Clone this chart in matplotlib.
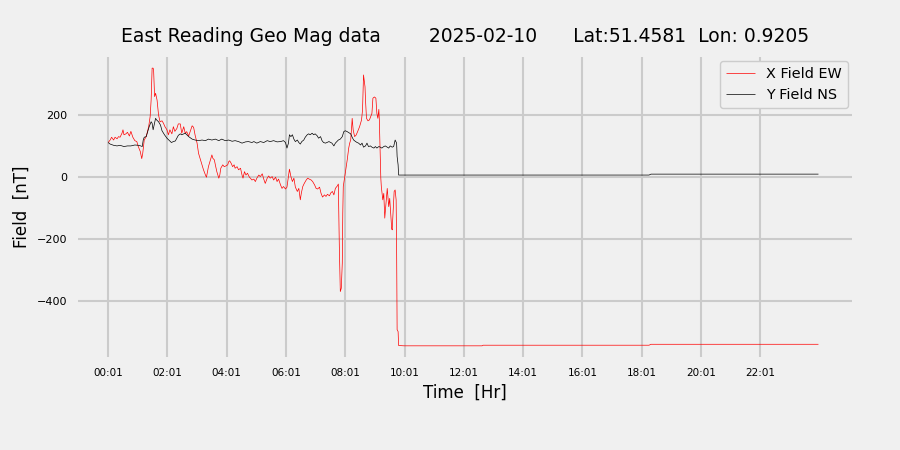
import matplotlib
matplotlib.use("Agg")
import matplotlib.pyplot as plt

# ---- data (minutes since midnight, field in nT) ----
x_time = [1, 5, 8, 12, 15, 19, 22, 25, 29, 31, 33, 37, 40, 44, 47, 51, 55, 59, 62, 66,
          69, 71, 74, 78, 83, 86, 88, 90, 92, 93, 95, 97, 100, 103, 106, 110, 113, 116,
          120, 123, 126, 130, 133, 136, 140, 143, 147, 150, 154, 157, 160, 164, 167, 171,
          174, 177, 181, 184, 187, 191, 194, 198, 200, 202, 204, 208, 211, 213, 216, 218,
          221, 225, 227, 229, 233, 236, 240, 243, 245, 247, 250, 253, 256, 258, 262, 265,
          269, 272, 274, 277, 280, 283, 287, 289, 292, 296, 299, 302, 306, 309, 313, 316,
          319, 323, 326, 329, 333, 336, 340, 343, 346, 350, 353, 356, 360, 363, 365, 368,
          371, 374, 377, 380, 384, 387, 390, 392, 395, 398, 402, 405, 408, 412, 415, 419,
          422, 425, 429, 432, 435, 439, 442, 445, 449, 452, 455, 458, 461, 465, 467, 468,
          469, 471, 473, 475, 476, 477, 479, 481, 483, 485, 488, 490, 492, 494, 495, 497,
          500, 503, 506, 510, 514, 516, 518, 521, 522, 524, 527, 530, 535, 537, 540, 543,
          545, 547, 549, 550, 552, 553, 554, 557, 559, 561, 564, 566, 569, 571, 575, 576,
          578, 580, 582, 584, 585, 586, 588, 589, 600, 758, 760, 1096, 1100, 1439]
x_field = [110, 118, 127, 118, 127, 122, 129, 127, 140, 151, 135, 138, 143, 131, 146, 127,
           116, 113, 97, 81, 58, 75, 118, 129, 161, 194, 247, 350, 350, 344, 258, 269, 247,
           199, 177, 180, 172, 161, 151, 135, 151, 138, 161, 146, 155, 170, 170, 140, 161,
           140, 145, 131, 145, 164, 159, 134, 108, 75, 59, 38, 22, 5, -2, 16, 32, 54, 70,
           59, 54, 38, 16, -5, 5, 27, 38, 32, 35, 38, 48, 51, 43, 32, 38, 27, 32, 22, 27,
           5, -5, 16, 5, 11, -2, -5, -11, -8, -16, -5, 5, 0, 9, -8, -22, -5, 2, -5, 0, -11,
           -2, -16, -8, -27, -38, -32, -40, -34, -11, 24, 0, -16, -5, -34, -48, -38, -75,
           -54, -32, -22, -11, -5, -8, -11, -16, -27, -38, -40, -34, -54, -66, -59, -64,
           -57, -62, -52, -48, -59, -38, -30, -24, -118, -226, -371, -360, -279, -118, -32,
           -11, 11, 32, 54, 92, 108, 118, 161, 188, 151, 129, 134, 145, 161, 183, 215, 328,
           290, 247, 188, 180, 183, 204, 253, 257, 253, 204, 188, 217, 183, 54, -5, -32,
           -75, -54, -134, -75, -38, -97, -70, -167, -172, -107, -48, -43, -75, -226, -494,
           -500, -545, -546, -546, -544, -544, -541, -541]

y_time = [1, 5, 12, 19, 25, 33, 40, 47, 55, 62, 67, 70, 72, 74, 78, 81, 84, 88, 90, 92,
          94, 97, 99, 103, 107, 110, 115, 120, 125, 129, 133, 137, 140, 143, 147, 150, 157,
          164, 171, 177, 184, 191, 198, 204, 211, 218, 225, 231, 238, 245, 252, 258, 265,
          272, 279, 285, 292, 296, 302, 309, 316, 323, 329, 336, 343, 350, 356, 360, 363,
          366, 368, 371, 374, 377, 380, 384, 387, 390, 393, 397, 400, 404, 407, 410, 414,
          417, 420, 424, 427, 431, 434, 437, 441, 448, 454, 458, 461, 467, 471, 475, 478,
          481, 485, 488, 492, 495, 498, 502, 505, 508, 512, 515, 518, 522, 525, 528, 532,
          535, 539, 542, 545, 549, 552, 555, 559, 562, 566, 569, 572, 576, 579, 582, 585,
          586, 588, 589, 600, 1096, 1100, 1439]
y_field = [110, 105, 101, 99, 101, 97, 99, 99, 102, 101, 99, 97, 118, 127, 129, 145, 161,
           177, 172, 151, 166, 188, 183, 177, 166, 148, 135, 124, 116, 110, 113, 115, 124,
           133, 138, 135, 140, 129, 121, 118, 116, 118, 116, 121, 118, 121, 116, 121, 116,
           118, 114, 116, 113, 108, 112, 113, 110, 113, 108, 113, 110, 116, 113, 116, 112,
           113, 116, 110, 92, 108, 135, 129, 135, 121, 113, 118, 110, 105, 113, 118, 127,
           135, 138, 135, 140, 135, 138, 132, 124, 129, 116, 110, 108, 113, 108, 99, 108,
           118, 121, 129, 145, 148, 145, 142, 138, 127, 118, 113, 110, 108, 102, 108, 95,
           99, 108, 97, 99, 95, 92, 97, 92, 97, 95, 92, 97, 99, 95, 92, 99, 95, 97, 118,
           108, 65, 38, 5, 5, 5, 8, 8]

tick_minutes = [1, 121, 241, 361, 481, 601, 721, 841, 961, 1081, 1201, 1321]
tick_labels = ["00:01", "02:01", "04:01", "06:01", "08:01", "10:01",
               "12:01", "14:01", "16:01", "18:01", "20:01", "22:01"]
y_ticks = [-400, -200, 0, 200]

title = "East Reading Geo Mag data        2025-02-10      Lat:51.4581  Lon: 0.9205"

plt.style.use("fivethirtyeight")
plt.rcParams["font.family"] = ["DejaVu Sans"]

fig = plt.figure(figsize=(9, 4.5), dpi=100, facecolor="#f0f0f0")
ax = fig.add_axes([0.0867, 0.2067, 0.86, 0.6667], facecolor="#f0f0f0")

ax.plot(x_time, x_field, color="red", lw=0.5, label="X Field EW")
ax.plot(y_time, y_field, color="black", lw=0.5, label="Y Field NS")

ax.set_xlim(-60, 1507)
ax.set_ylim(-582, 386)
ax.set_xticks(tick_minutes)
ax.set_xticklabels(tick_labels)
ax.set_yticks(y_ticks)
ax.tick_params(axis="x", labelsize=7.5, pad=8, length=0)
ax.tick_params(axis="y", labelsize=8, pad=8, length=0)
ax.grid(True, color="#cbcbcb", lw=1.5)
for s in ax.spines.values():
    s.set_visible(False)

ax.set_title(title, fontsize=13.5, pad=11)
ax.set_xlabel("Time  [Hr]", fontsize=12)
ax.set_ylabel("Field  [nT]", fontsize=12)
leg = ax.legend(loc="upper right", fontsize=10.4, frameon=True, facecolor="#f0f0f0",
                edgecolor="#cccccc", framealpha=1.0, borderaxespad=0.3)
leg.get_frame().set_linewidth(1.0)

fig.savefig("out.png", dpi=100, facecolor="#f0f0f0")
